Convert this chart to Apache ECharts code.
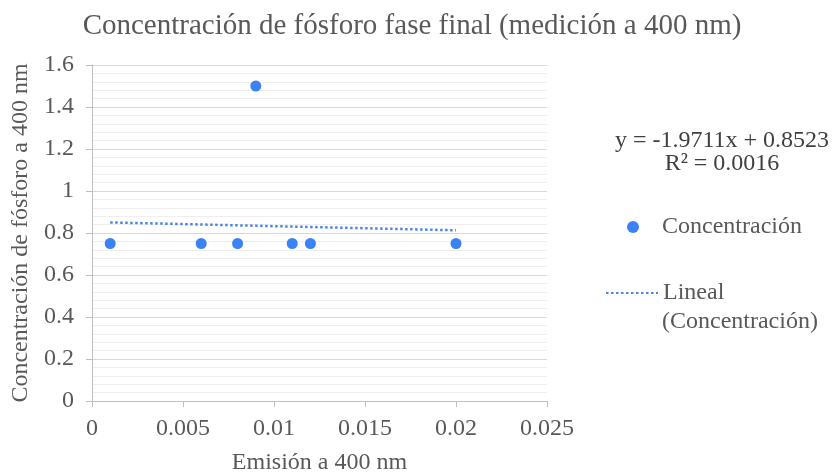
<!DOCTYPE html>
<html>
<head>
<meta charset="utf-8">
<script src="https://cdn.jsdelivr.net/npm/echarts@6/dist/echarts.min.js"></script>
<style>
  html, body { margin: 0; padding: 0; background: #fff; }
  #chart { width: 833px; height: 476px; }
</style>
</head>
<body>
<div id="chart"></div>
<script>
// Measured points: emission (x) vs phosphorus concentration (y)
const emision = [0.001, 0.006, 0.008, 0.009, 0.011, 0.012, 0.02];
const concentracion = [0.75, 0.75, 0.75, 1.5, 0.75, 0.75, 0.75];

// Linear trendline coefficients as reported on the chart
const pendiente = -1.9711;
const intercepto = 0.8523;
const r2 = 0.0016;

const FONT = '"Liberation Serif", "Times New Roman", serif';
const GREY = '#595959';
const BLUE = '#3b82f6';

const xMin = Math.min(...emision);
const xMax = Math.max(...emision);
const tendencia = [
  [xMin, pendiente * xMin + intercepto],
  [xMax, pendiente * xMax + intercepto]
];

const chart = echarts.init(document.getElementById('chart'), null, { renderer: 'canvas' });

chart.setOption({
  animation: false,
  backgroundColor: '#ffffff',
  title: {
    text: 'Concentración de fósforo fase final (medición a 400 nm)',
    left: 412,
    textAlign: 'center',
    top: 12,
    padding: 0,
    textStyle: { fontFamily: FONT, fontSize: 29, fontWeight: 'normal', color: GREY }
  },
  grid: { left: 92, right: 286, top: 65, bottom: 75, containLabel: false, outerBoundsMode: 'none' },
  xAxis: {
    type: 'value',
    min: 0, max: 0.025, interval: 0.005,
    name: 'Emisión a 400 nm',
    nameLocation: 'middle',
    nameGap: 50,
    nameTextStyle: { fontFamily: FONT, fontSize: 24, color: GREY },
    axisLine: { show: true, lineStyle: { color: '#bfbfbf', width: 1 } },
    axisTick: { show: true, length: 6, lineStyle: { color: '#bfbfbf' } },
    axisLabel: { fontFamily: FONT, fontSize: 24, color: GREY, margin: 16 },
    splitLine: { show: false }
  },
  yAxis: {
    type: 'value',
    min: 0, max: 1.6, interval: 0.2,
    name: 'Concentración de fósforo a 400 nm',
    nameLocation: 'middle',
    nameGap: 55,
    nameTextStyle: { fontFamily: FONT, fontSize: 24, color: GREY },
    axisLine: { show: true, lineStyle: { color: '#bfbfbf', width: 1 } },
    axisTick: { show: true, length: 6, lineStyle: { color: '#bfbfbf' } },
    axisLabel: { fontFamily: FONT, fontSize: 24, color: GREY, margin: 18 },
    splitLine: { show: true, lineStyle: { color: '#d9d9d9', width: 1 } },
    minorTick: { show: false, splitNumber: 5 },
    minorSplitLine: { show: true, lineStyle: { color: '#efefef', width: 1 } }
  },
  legend: [
    {
      data: ['Concentración'],
      left: 627, top: 215,
      padding: 0,
      itemWidth: 48, itemHeight: 12,
      icon: 'circle',
      textStyle: { fontFamily: FONT, fontSize: 24, color: GREY }
    },
    {
      data: ['Lineal (Concentración)'],
      left: 605, top: 281,
      padding: 0,
      itemWidth: 52, itemHeight: 12,
      itemStyle: { opacity: 0 },
      formatter: () => 'Lineal',
      textStyle: { fontFamily: FONT, fontSize: 24, color: GREY }
    }
  ],
  graphic: [
    {
      type: 'text',
      left: 662, top: 310,
      style: { text: '(Concentración)', font: '24px ' + FONT, fill: GREY }
    },
    {
      type: 'text',
      x: 722, y: 129,
      style: {
        text: 'y = ' + pendiente.toFixed(4) + 'x + ' + intercepto.toFixed(4) + '\nR² = ' + r2.toFixed(4),
        font: '24px ' + FONT, fill: '#404040', align: 'center', lineHeight: 23
      }
    }
  ],
  series: [
    {
      name: 'Concentración',
      type: 'scatter',
      symbol: 'circle',
      symbolSize: 11,
      itemStyle: { color: BLUE, opacity: 1 },
      data: emision.map((x, i) => [x, concentracion[i]]),
      z: 3
    },
    {
      name: 'Lineal (Concentración)',
      type: 'line',
      showSymbol: false,
      symbol: 'none',
      lineStyle: { color: '#4a86e8', width: 2.5, type: [2.5, 2.5] },
      itemStyle: { color: '#4a86e8' },
      data: tendencia,
      z: 2
    }
  ]
});
</script>
</body>
</html>
